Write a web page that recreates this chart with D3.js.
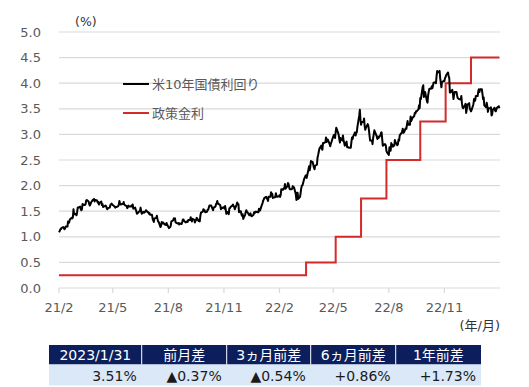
<!DOCTYPE html>
<html><head><meta charset="utf-8">
<script src="https://cdn.jsdelivr.net/npm/d3@7"></script>
<style>
body{margin:0;background:#fff;}
svg{display:block;font-family:"DejaVu Sans","Noto Sans CJK JP",sans-serif;}
</style></head>
<body><svg id="c" width="529" height="387"></svg>
<script>
// US 10Y yields, one value per weekday starting 2021-02-01
const yields2021 = [
1.09,1.11,1.14,1.15,1.17,1.19,1.17,1.15,1.16,1.20,1.20,1.30,1.27,1.29,1.34,1.37,1.36,1.38,1.54,1.44,
1.45,1.42,1.48,1.57,1.57,1.59,1.54,1.52,1.54,1.64,1.62,1.62,1.64,1.71,1.72,1.69,1.64,1.61,1.63,1.67,1.72,1.73,1.74,
1.69,1.72,1.71,1.67,1.68,1.63,1.66,1.69,1.62,1.64,1.58,1.59,1.61,1.60,1.56,1.54,1.56,1.57,1.62,1.63,1.65,1.63,
1.60,1.59,1.57,1.58,1.58,1.60,1.63,1.70,1.66,1.63,1.64,1.64,1.68,1.63,1.62,1.60,1.56,1.58,1.61,1.59,1.59,
1.61,1.59,1.63,1.55,1.57,1.53,1.50,1.45,1.46,1.50,1.50,1.57,1.51,1.45,1.49,1.47,1.49,1.49,1.52,1.48,1.48,1.45,
1.46,1.43,1.43,1.35,1.32,1.29,1.36,1.37,1.41,1.35,1.30,1.29,1.19,1.22,1.29,1.26,1.28,1.24,1.24,1.23,1.27,1.24,
1.17,1.18,1.19,1.22,1.30,1.32,1.36,1.34,1.36,1.28,1.26,1.26,1.27,1.24,1.26,1.25,1.29,1.34,1.34,1.31,1.28,1.30,
1.30,1.29,1.33,1.33,1.38,1.34,1.30,1.35,1.33,1.28,1.31,1.33,1.37,1.31,1.33,1.30,1.41,1.47,1.49,1.54,1.53,1.52,
1.48,1.49,1.53,1.53,1.57,1.61,1.61,1.58,1.55,1.52,1.57,1.59,1.64,1.65,1.70,1.65,1.63,1.61,1.54,1.57,1.56,
1.58,1.55,1.60,1.53,1.45,1.49,1.44,1.56,1.56,1.58,1.61,1.63,1.59,1.59,1.54,1.63,1.67,1.64,1.64,1.48,1.50,1.44,
1.41,1.44,1.35,1.43,1.48,1.52,1.49,1.48,1.42,1.44,1.46,1.41,1.40,1.43,1.48,1.46,1.49,1.49,1.48,1.48,1.55,1.51,1.52
];
const yields2022 = [
1.63,1.66,1.71,1.73,1.76,1.78,1.75,1.74,1.70,1.78,1.78,1.87,1.83,1.84,1.76,1.77,1.78,1.85,1.80,1.78,1.79,
1.81,1.78,1.82,1.93,1.92,1.95,1.94,2.03,1.94,1.99,2.05,2.03,1.97,1.93,1.93,1.94,1.99,1.97,1.97,1.83,
1.72,1.86,1.86,1.74,1.78,1.86,1.95,2.00,2.00,2.14,2.16,2.19,2.20,2.15,2.32,2.38,2.30,2.37,2.48,2.46,2.40,2.35,2.32,
2.39,2.41,2.55,2.60,2.66,2.72,2.78,2.72,2.70,2.83,2.83,2.85,2.94,2.85,2.90,2.90,2.81,2.77,2.82,2.85,2.89,
2.99,2.96,2.93,3.05,3.13,3.03,2.99,2.91,2.84,2.93,2.88,2.98,2.88,2.84,2.78,2.86,2.75,2.75,2.75,2.74,2.74,2.85,
2.94,2.91,2.96,3.04,2.98,3.03,3.04,3.15,3.37,3.48,3.29,3.19,3.24,3.24,3.31,3.16,3.09,3.13,3.20,3.17,3.09,2.98,
2.88,2.88,2.81,2.93,3.00,3.08,2.99,2.96,2.91,2.96,2.93,2.98,3.03,3.04,2.91,2.78,2.81,2.81,2.78,2.68,2.65,
2.60,2.75,2.73,2.68,2.83,2.76,2.79,2.78,2.89,2.85,2.79,2.81,2.90,2.88,2.98,3.03,3.05,3.11,3.03,3.04,3.12,3.11,3.19,
3.26,3.19,3.19,3.35,3.26,3.29,3.32,3.36,3.42,3.41,3.45,3.45,3.49,3.57,3.51,3.71,3.69,3.93,3.96,3.73,3.79,3.83,
3.65,3.62,3.76,3.83,3.89,3.89,3.94,3.90,3.95,4.01,4.02,4.00,4.14,4.24,4.21,4.24,4.10,4.01,3.92,4.02,4.05,
4.04,4.10,4.12,4.16,4.21,4.14,4.10,3.82,3.82,3.87,3.80,3.69,3.77,3.83,3.83,3.76,3.71,3.70,3.69,3.68,3.75,3.61,
3.53,3.51,3.57,3.60,3.42,3.49,3.58,3.61,3.50,3.48,3.45,3.48,3.59,3.69,3.65,3.67,3.75,3.75,3.84,3.88,3.83,3.88
];
const yields2023 = [
3.88,3.79,3.69,3.72,3.57,3.53,3.62,3.55,3.44,3.51,3.51,3.53,3.37,3.39,3.48,3.52,3.46,3.45,3.49,3.52,3.55,3.51
];
const yieldStart = "2021-02-01";

const policyDates = ["2021-02-01","2022-03-17","2022-05-05","2022-06-16","2022-07-28","2022-09-22","2022-11-03","2022-12-15","2023-01-31"];
const policyRates = [0.25,0.5,1.0,1.75,2.5,3.25,4.0,4.5,4.5];

const yTicks = [0,0.5,1,1.5,2,2.5,3,3.5,4,4.5,5];
const xTickDates = ["2021-02-01","2021-05-01","2021-08-01","2021-11-01","2022-02-01","2022-05-01","2022-08-01","2022-11-01"];
const xTickLabels = ["21/2","21/5","21/8","21/11","22/2","22/5","22/8","22/11"];

const seriesNames = ["米10年国債利回り","政策金利"];
const tableHeaders = ["2023/1/31","前月差","3ヵ月前差","6ヵ月前差","1年前差"];
const tableValues = ["3.51%","▲0.37%","▲0.54%","+0.86%","+1.73%"];

const parse = d3.utcParse("%Y-%m-%d");
const svg = d3.select("#c");
const L = 59, R = 500, T = 32, B = 288;

const x = d3.scaleUtc().domain([parse("2021-02-01"), parse("2023-02-01")]).range([L, R]);
const y = d3.scaleLinear().domain([0, 5]).range([B, T]);

// build weekday dates
const allYields = yields2021.concat(yields2022, yields2023);
const yieldData = [];
let dt = parse(yieldStart);
for (let i = 0; i < allYields.length; ) {
  const wd = dt.getUTCDay();
  if (wd !== 0 && wd !== 6) { yieldData.push({d: new Date(dt), v: allYields[i]}); i++; }
  dt = d3.utcDay.offset(dt, 1);
}
const policyData = policyDates.map((d, i) => ({d: parse(d), v: policyRates[i]}));

// grid
svg.append("g").selectAll("line").data(yTicks).join("line")
  .attr("x1", L).attr("x2", R).attr("y1", d => y(d)).attr("y2", d => y(d))
  .attr("stroke", "#d9d9d9").attr("stroke-width", 1.2);

// y labels
svg.append("g").selectAll("text").data(yTicks).join("text")
  .attr("x", 41).attr("y", d => y(d)).attr("dy", "0.36em").attr("text-anchor", "end")
  .attr("font-size", 13).attr("fill", "#595959").text(d => d.toFixed(1));

// x ticks
const xt = xTickDates.map(parse);
svg.append("g").selectAll("line").data(xt).join("line")
  .attr("x1", d => x(d)).attr("x2", d => x(d)).attr("y1", B).attr("y2", B + 5)
  .attr("stroke", "#d9d9d9").attr("stroke-width", 1.2);
svg.append("g").selectAll("text").data(xt).join("text")
  .attr("x", d => x(d)).attr("y", 312).attr("text-anchor", "middle")
  .attr("font-size", 13).attr("fill", "#595959").text((d, i) => xTickLabels[i]);

svg.append("text").attr("x", 75).attr("y", 26).attr("font-size", 12.5).attr("fill", "#333").text("(%)");
svg.append("text").attr("x", 500).attr("y", 330).attr("text-anchor", "end").attr("font-size", 13).attr("fill", "#333").text("(年/月)");

// lines
const line = d3.line().x(d => x(d.d)).y(d => y(d.v));
svg.append("path").datum(policyData).attr("d", line.curve(d3.curveStepAfter))
  .attr("fill", "none").attr("stroke", "#d42a2a").attr("stroke-width", 2);
svg.append("path").datum(yieldData).attr("d", d3.line().x(d => x(d.d)).y(d => y(d.v)))
  .attr("fill", "none").attr("stroke", "#000").attr("stroke-width", 2).attr("stroke-linejoin", "round");

// legend
const legColors = ["#000", "#d42a2a"];
seriesNames.forEach((n, i) => {
  const ly = 84 + i * 29;
  svg.append("line").attr("x1", 123).attr("x2", 149).attr("y1", ly).attr("y2", ly)
    .attr("stroke", legColors[i]).attr("stroke-width", 2);
  svg.append("text").attr("x", 152).attr("y", ly).attr("dy", "0.36em")
    .attr("font-size", 13).attr("fill", "#595959").text(n);
});

// table
const colEdges = [49, 141.7, 226.7, 310.7, 395.7, 481];
const tg = svg.append("g");
tg.append("rect").attr("x", 49).attr("y", 345).attr("width", 432).attr("height", 19.5).attr("fill", "#0c1f5c");
tg.append("rect").attr("x", 49).attr("y", 364.5).attr("width", 432).attr("height", 21).attr("fill", "#dae8f8");
tg.selectAll("line.div").data(colEdges.slice(1, -1)).join("line")
  .attr("x1", d => d).attr("x2", d => d).attr("y1", 345).attr("y2", 364.5)
  .attr("stroke", "#fff").attr("stroke-width", 1);
tg.selectAll("text.h").data(tableHeaders).join("text")
  .attr("x", (d, i) => (colEdges[i] + colEdges[i + 1]) / 2).attr("y", 355).attr("dy", "0.36em")
  .attr("text-anchor", "middle").attr("font-size", 14).attr("fill", "#fff").text(d => d);
tg.selectAll("text.v").data(tableValues).join("text")
  .attr("x", (d, i) => colEdges[i + 1] - 5).attr("y", 375.5).attr("dy", "0.36em")
  .attr("text-anchor", "end").attr("font-size", 14).attr("fill", "#1a1a1a").text(d => d);
</script></body></html>
